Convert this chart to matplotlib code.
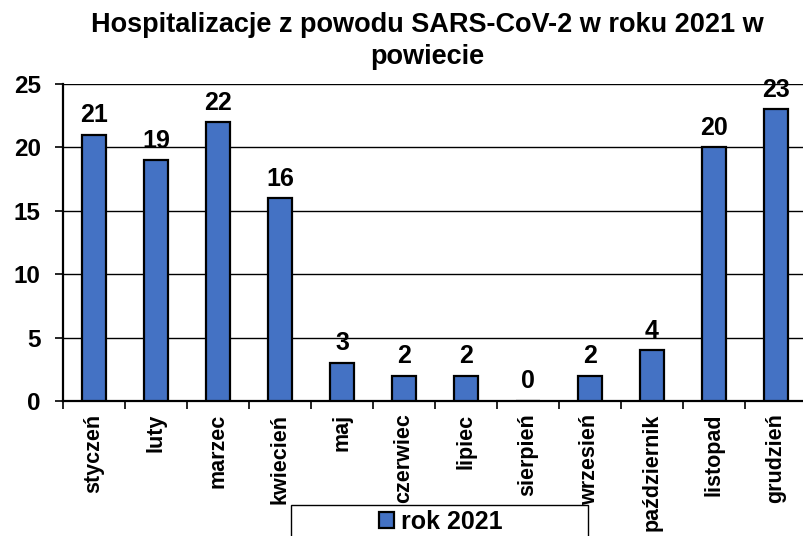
import numpy as np
import matplotlib.pyplot as plt
from matplotlib.patches import Rectangle
from matplotlib.ticker import FixedLocator

plt.rcParams['font.family'] = ['Liberation Sans', 'DejaVu Sans']
plt.rcParams['font.weight'] = 'bold'

miesiace = ['styczeń', 'luty', 'marzec', 'kwiecień', 'maj', 'czerwiec',
            'lipiec', 'sierpień', 'wrzesień', 'październik', 'listopad', 'grudzień']
hospitalizacje = [21, 19, 22, 16, 3, 2, 2, 0, 2, 4, 20, 23]
seria = 'rok 2021'
tytul = 'Hospitalizacje z powodu SARS-CoV-2 w roku 2021 w\npowiecie'

kolor = '#4472C4'

fig = plt.figure(figsize=(8.04, 5.36), dpi=100)
# obszar wykresu wychodzi lekko poza prawą krawędź (jak w oryginale)
ax = fig.add_axes([63/804, 1 - 401/536, 744/804, 317/536])

x = np.arange(len(miesiace))
bars = ax.bar(x, hospitalizacje, width=0.4, color=kolor, edgecolor='black',
              linewidth=1.6, zorder=3, label=seria)

for xi, v in zip(x, hospitalizacje):
    ax.annotate(str(v), (xi, v), xytext=(0, 9), textcoords='offset points',
                ha='center', va='baseline', fontsize=18, fontweight='bold')

ax.set_xlim(-0.5, len(miesiace) - 0.5)
ax.set_ylim(0, 25)
ax.set_yticks(np.arange(0, 26, 5))
ax.yaxis.grid(True, color='black', linewidth=1.0, zorder=0)
ax.tick_params(axis='y', labelsize=17.5, length=6, width=1.2, pad=10)

ax.set_xticks(x)
ax.set_xticklabels(miesiace, rotation=90, fontsize=15.5, fontweight='bold')
ax.tick_params(axis='x', which='major', length=0, pad=9)
ax.xaxis.set_minor_locator(FixedLocator(np.arange(-0.5, len(miesiace), 1)))
ax.tick_params(axis='x', which='minor', length=6, width=1.2)

for side in ['top', 'right']:
    ax.spines[side].set_visible(False)
for side in ['left', 'bottom']:
    ax.spines[side].set_linewidth(1.6)

fig.text(427/804, 1 - 12/536, tytul, ha='center', va='top', fontsize=19.5,
         fontweight='bold', linespacing=1.3)

# ramka legendy (w oryginale ucięta dolną krawędzią)
fig.patches.append(Rectangle((291/804, -0.05), 297/804, 0.05 + 31/536,
                             transform=fig.transFigure, fill=False,
                             edgecolor='black', linewidth=1.0))
fig.legend(handles=[bars], labels=[seria], loc='center',
           bbox_to_anchor=(441/804, 1 - 522/536), frameon=False,
           prop={'size': 18, 'weight': 'bold'}, handlelength=0.6,
           handleheight=0.6, handletextpad=0.3, borderpad=0)

fig.savefig('out.png', dpi=100)
